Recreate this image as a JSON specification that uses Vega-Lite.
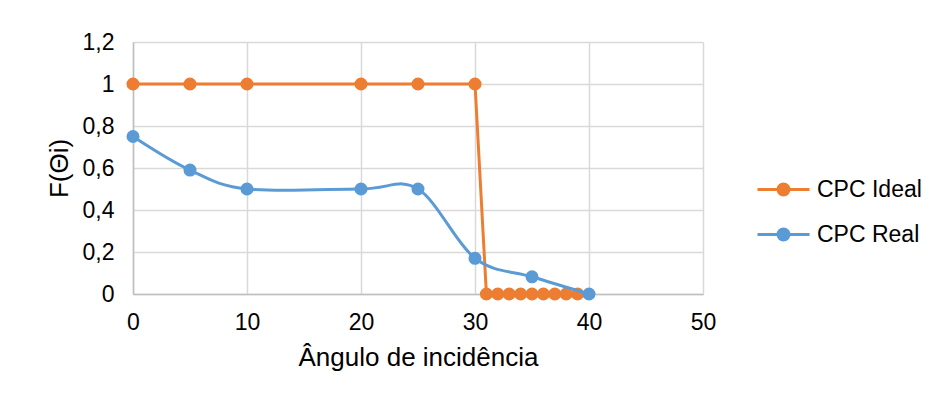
{
  "$schema": "https://vega.github.io/schema/vega-lite/v6.json",
  "width": 570,
  "height": 252,
  "autosize": "none",
  "padding": {"left": 133, "top": 42, "right": 233, "bottom": 107},
  "background": "white",
  "config": {
    "font": "Liberation Sans",
    "view": {"stroke": null},
    "axis": {
      "labelFont": "Liberation Sans",
      "titleFont": "Liberation Sans",
      "labelFontSize": 23,
      "titleFontSize": 26,
      "labelColor": "#000000",
      "titleColor": "#000000",
      "titleFontWeight": "normal",
      "gridColor": "#D9D9D9",
      "gridWidth": 1.5,
      "domainColor": "#BFBFBF",
      "domainWidth": 1.5,
      "ticks": false
    }
  },
  "data": {
    "values": [
      {"x": 0, "y": 1, "s": "CPC Ideal"},
      {"x": 5, "y": 1, "s": "CPC Ideal"},
      {"x": 10, "y": 1, "s": "CPC Ideal"},
      {"x": 20, "y": 1, "s": "CPC Ideal"},
      {"x": 25, "y": 1, "s": "CPC Ideal"},
      {"x": 30, "y": 1, "s": "CPC Ideal"},
      {"x": 31, "y": 0, "s": "CPC Ideal"},
      {"x": 32, "y": 0, "s": "CPC Ideal"},
      {"x": 33, "y": 0, "s": "CPC Ideal"},
      {"x": 34, "y": 0, "s": "CPC Ideal"},
      {"x": 35, "y": 0, "s": "CPC Ideal"},
      {"x": 36, "y": 0, "s": "CPC Ideal"},
      {"x": 37, "y": 0, "s": "CPC Ideal"},
      {"x": 38, "y": 0, "s": "CPC Ideal"},
      {"x": 39, "y": 0, "s": "CPC Ideal"},
      {"x": 0, "y": 0.75, "s": "CPC Real"},
      {"x": 5, "y": 0.59, "s": "CPC Real"},
      {"x": 10, "y": 0.5, "s": "CPC Real"},
      {"x": 20, "y": 0.5, "s": "CPC Real"},
      {"x": 25, "y": 0.5, "s": "CPC Real"},
      {"x": 30, "y": 0.17, "s": "CPC Real"},
      {"x": 35, "y": 0.082, "s": "CPC Real"},
      {"x": 40, "y": 0, "s": "CPC Real"}
    ]
  },
  "encoding": {
    "x": {
      "field": "x",
      "type": "quantitative",
      "scale": {"domain": [0, 50], "nice": false, "zero": false},
      "axis": {"values": [0, 10, 20, 30, 40, 50], "title": "Ângulo de incidência", "labelPadding": 17, "titlePadding": 10, "labelFlush": false}
    },
    "y": {
      "field": "y",
      "type": "quantitative",
      "scale": {"domain": [0, 1.2], "nice": false},
      "axis": {"values": [0, 0.2, 0.4, 0.6, 0.8, 1, 1.2], "title": "F(Θi)", "labelPadding": 19, "titlePadding": 10, "labelExpr": "replace(format(datum.value, '.1~f'), '.', ',')", "labelFlush": false}
    },
    "color": {
      "field": "s",
      "type": "nominal",
      "scale": {"domain": ["CPC Ideal", "CPC Real"], "range": ["#ED7D31", "#5B9BD5"]},
      "legend": {
        "title": null,
        "orient": "none",
        "legendX": 636,
        "legendY": 133,
        "labelFont": "Liberation Sans",
        "labelFontSize": 23,
        "labelColor": "#000000",
        "symbolType": "M-2,0L2,0M-0.42,0A0.42,0.42,0,1,1,0.42,0A0.42,0.42,0,1,1,-0.42,0Z",
        "symbolSize": 676,
        "symbolStrokeWidth": 3,
        "labelOffset": 19,
        "rowPadding": 18,
        "encode": {
          "symbols": {
            "update": {
              "fill": {"field": "value", "scale": "color"},
              "stroke": {"field": "value", "scale": "color"},
              "opacity": {"value": 1},
              "strokeWidth": {"value": 3}
            }
          }
        }
      }
    }
  },
  "layer": [
    {
      "transform": [{"filter": "datum.s === 'CPC Ideal'"}],
      "layer": [
        {"mark": {"type": "line", "strokeWidth": 3, "interpolate": "linear"}},
        {"mark": {"type": "circle", "size": 170, "opacity": 1}}
      ]
    },
    {
      "transform": [{"filter": "datum.s === 'CPC Real'"}],
      "layer": [
        {"mark": {"type": "line", "strokeWidth": 3, "interpolate": "cardinal"}},
        {"mark": {"type": "circle", "size": 170, "opacity": 1}}
      ]
    }
  ]
}
